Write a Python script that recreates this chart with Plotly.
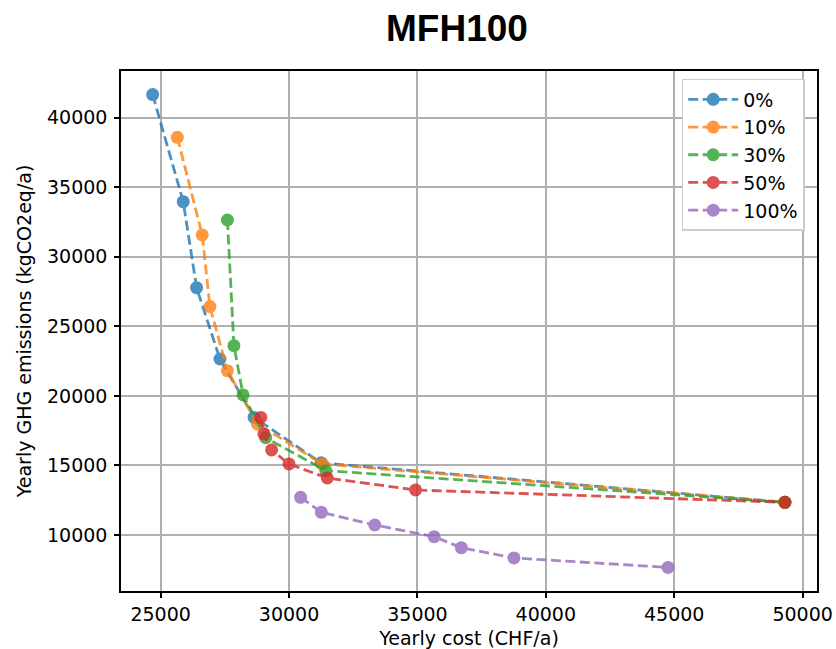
import plotly.graph_objects as go

# ---- data ----
series_names = ["0%", "10%", "30%", "50%", "100%"]
colors = ["#1f77b4", "#ff7f0e", "#2ca02c", "#d62728", "#9467bd"]

cost_0 = [24690, 25880, 26400, 27310, 28640, 31250, 49310]
ghg_0 = [41670, 33970, 27780, 22650, 18450, 15180, 12340]

cost_10 = [25650, 26620, 26920, 27600, 28770, 31300, 49310]
ghg_10 = [38600, 31580, 26420, 21810, 17980, 15100, 12340]

cost_30 = [27600, 27855, 28210, 29090, 31430, 49310]
ghg_30 = [32650, 23610, 20070, 16990, 14620, 12340]

cost_50 = [28900, 29020, 29320, 30000, 31490, 34930, 49310]
ghg_50 = [18450, 17260, 16110, 15100, 14090, 13230, 12340]

cost_100 = [30450, 31260, 33340, 35650, 36710, 38760, 44760]
ghg_100 = [12700, 11620, 10710, 9870, 9080, 8340, 7660]

xs = [cost_0, cost_10, cost_30, cost_50, cost_100]
ys = [ghg_0, ghg_10, ghg_30, ghg_50, ghg_100]

x_ticks = [25000, 30000, 35000, 40000, 45000, 50000]
y_ticks = [10000, 15000, 20000, 25000, 30000, 35000, 40000]

title_text = "MFH100"
x_label = "Yearly cost (CHF/a)"
y_label = "Yearly GHG emissions (kgCO2eq/a)"

FONT = "DejaVu Sans"

fig = go.Figure()
for name, c, x, y in zip(series_names, colors, xs, ys):
    fig.add_trace(go.Scatter(
        x=x, y=y, name=name, mode="lines+markers",
        line=dict(color=c, width=2.8, dash="10px,4.5px"),
        marker=dict(color=c, size=13),
        opacity=0.8,
    ))

L, R, T, B = 121, 19, 70.5, 58
W, H = 836, 649
pw = W - L - R
ph = H - T - B

axis_common = dict(
    showline=True, linecolor="black", linewidth=1.5, mirror=True,
    showgrid=True, gridcolor="#b0b0b0", gridwidth=1.5,
    ticks="outside", ticklen=5, tickwidth=1.5, tickcolor="black",
    tickfont=dict(family=FONT, size=19, color="black"),
    zeroline=False,
)

fig.update_layout(
    width=W, height=H,
    margin=dict(l=L, r=R, t=T, b=B, autoexpand=False),
    paper_bgcolor="white", plot_bgcolor="white",
    showlegend=True,
    legend=dict(
        x=(681.7 - L) / pw, y=(H - B - 78.5) / ph, xanchor="left", yanchor="top",
        bgcolor="white", bordercolor="#cccccc", borderwidth=1.5,
        font=dict(family=FONT, size=19, color="black"),
        itemwidth=50,
    ),
    xaxis=dict(axis_common, range=[23457, 50560], tickvals=x_ticks,
               ticktext=[str(v) for v in x_ticks], ticklabelstandoff=0,
               title=dict(text=x_label, font=dict(family=FONT, size=19, color="black"), standoff=9)),
    yaxis=dict(axis_common, range=[5962, 43369], tickvals=y_ticks,
               ticktext=[str(v) for v in y_ticks], ticklabelstandoff=3,
               title=dict(text=y_label, font=dict(family=FONT, size=19, color="black"), standoff=10)),
    annotations=[dict(
        text="<b>" + title_text + "</b>", xref="paper", yref="paper",
        x=(457 - L) / pw, y=(H - B - 28) / ph, xanchor="center", yanchor="middle",
        showarrow=False, font=dict(family="Liberation Sans", size=37, color="black"),
    )],
)

fig.write_html("out.html", config={"displayModeBar": False},
               post_script="document.body.style.margin='0px';")
